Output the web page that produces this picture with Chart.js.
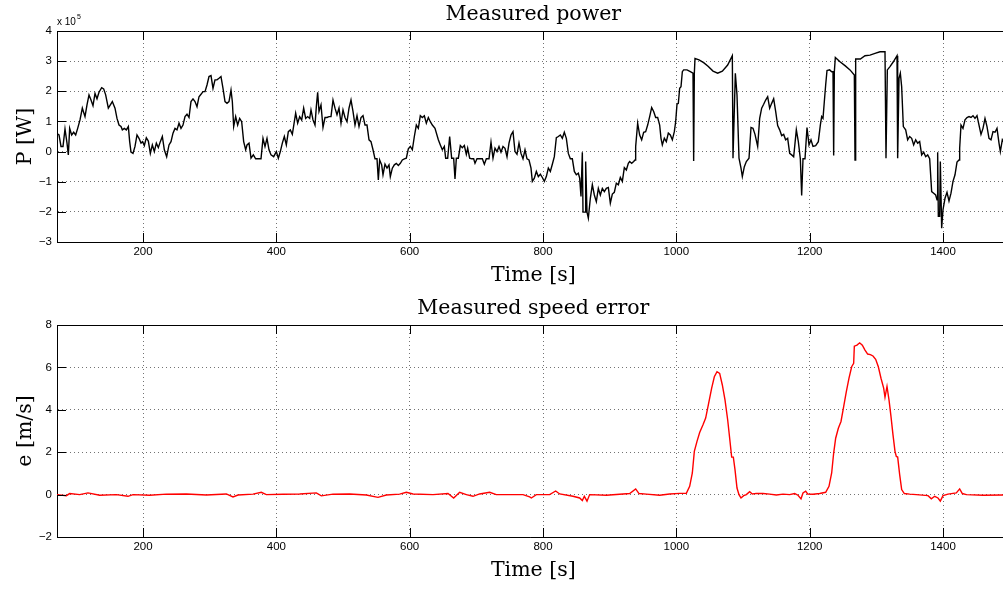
<!DOCTYPE html>
<html>
<head>
<meta charset="utf-8">
<script src="https://cdn.jsdelivr.net/npm/chart.js@4.4.1/dist/chart.umd.min.js"></script>
<style>
  html, body { margin: 0; padding: 0; background: #fff; }
  #wrap { position: relative; width: 1003px; height: 590px; overflow: hidden; }
  canvas { position: absolute; left: 0; }
  #powerChart { top: 0; }
  #errChart { top: 290px; }
</style>
</head>
<body>
<div id="wrap">
  <canvas id="powerChart" width="1003" height="290"></canvas>
  <canvas id="errChart" width="1003" height="300"></canvas>
</div>
<script>
// time axis ticks and per-plot y ticks
const timeTicks = [200, 400, 600, 800, 1000, 1200, 1400];
const powerTicks = [-3, -2, -1, 0, 1, 2, 3, 4];
const errTicks = [-2, 0, 2, 4, 6, 8];

// measured power, in units of 10^5 W
const powerTime = [70.5,74,77,80,83,86,88,90,93,96,99,102,105.5,109,113,116,119,122,125,128,131,134,138,141,144,148,151,154,158,161,164,167,169,172,175,178,180,182,185,188,191,194,197,199.5,202,205,208,211,214,217,220,223,226,229,232,235.5,239,242,245,248,251,254,257,260,263,266,269,272,275,278,281,284,287,290,293,296,299,302,305,308,311,314,317,320,323,326,329,332,334,336,339,342,345,348,351,354,356,359,362,365.5,369,373,377,380,383,386,389,392,396,400,403,406,409,412,415,418,421,424,427,429,432,435,438,441,444,447,450,452,455,458,460,462,464,467,470,473,476,479,482,485,488,491,494,497,500,503,506,509,512,515,518,521,524,527,530,533,536,539,542,545,548,551,553,555,558,560,563,566,569,571,574,577,580,583,586,589,592,595,598,601,604,607,610,613,616,619,622,625,628,631,634,638,643,646,649,652,654,657,660,663,666,668,670,673,676,679,682,685,687,690,693,696,698,701,705,709,712,715,719,722,725,728,731,734,737,740,743,746,749,752,755,758,761,764,767,770,773,776,779,782,784,787,790,793,796,799,802,805,808,811,814,817,820,823,826,829,832,835,838,841,844,847,850,853,855,857,859,860,863,864,866,868,871,874,877,880,883,886,889,892,895,898,901,904,907,910,913,916,919,922,925,928,930,933,936,938,939,942,945,948,951,954,957,960,963,966,969,972,975,977,979,982,985,988,991,994,997,999,1001,1003,1005,1007,1009,1011,1016,1021,1025,1026,1027,1028,1034,1041,1048,1055,1062,1069,1077,1084,1085,1088.5,1091,1094,1097,1099,1102,1105,1109,1112,1115,1118,1122,1125,1128,1131,1134,1137,1140,1143,1146,1149,1152,1155,1158,1161,1164,1167,1170,1173,1176,1180,1183,1186,1188,1190,1193,1196,1199,1202,1205,1209,1213,1216,1218,1220,1222,1224,1226,1230,1233,1235,1236,1237,1238.5,1245.5,1253,1260.5,1267,1268,1269,1276,1283,1290.5,1298,1305.5,1313,1314.5,1316.5,1320.5,1325.5,1331,1332,1334,1336,1338,1340.5,1344,1347,1350,1353,1356,1359,1362,1365,1368,1371,1374,1377,1380,1383,1386,1389,1391,1392,1393,1395,1396,1398,1400,1403,1406,1409,1412,1415,1418,1421,1424,1425,1427,1430,1433,1436,1439,1442,1445,1448,1451,1454,1457,1460,1463,1466,1469,1472,1475,1478,1481,1484,1486,1489,1492];
const powerVal = [0.61,0.55,0.17,0.17,0.75,0.28,-0.11,0.77,0.55,0.64,0.55,0.77,1.05,1.44,1.16,1.55,1.88,1.71,1.52,1.93,1.75,1.97,2.12,2.08,1.88,1.44,1.55,1.66,1.44,1.10,0.88,0.83,0.72,0.77,0.72,0.83,0.33,-0.02,-0.06,0.17,0.55,0.44,0.28,0.33,0.2,0.46,0.35,-0.06,0.22,0.0,0.28,0.13,0.33,0.5,0.06,-0.17,0.22,0.33,0.61,0.77,0.72,0.94,0.77,0.88,1.16,1.24,1.13,1.66,1.75,1.66,1.49,1.82,1.90,1.99,1.99,2.21,2.49,2.52,2.10,2.38,2.38,2.43,2.49,2.10,1.66,1.60,1.66,2.04,1.66,0.83,1.16,0.88,1.10,0.99,0.33,0.06,0.22,0.28,-0.22,-0.11,-0.24,-0.24,-0.24,0.44,0.17,0.44,0.06,-0.11,-0.17,0.0,-0.22,0.0,0.28,0.5,0.22,0.66,0.72,0.57,0.99,1.27,0.94,1.16,1.05,1.44,1.10,1.16,1.10,1.38,1.05,0.88,1.49,1.97,1.33,1.55,0.80,1.13,1.13,1.16,1.16,1.71,1.44,1.22,1.44,0.94,1.38,1.13,0.99,1.44,1.71,1.33,0.88,1.19,0.83,1.13,1.19,0.88,0.88,0.39,0.33,0.06,-0.24,-0.24,-0.94,-0.28,-0.44,-0.77,-0.42,-0.55,-0.44,-0.83,-0.55,-0.44,-0.39,-0.46,-0.39,-0.28,-0.24,-0.22,0.09,0.17,0.06,0.5,0.88,0.77,1.19,1.13,1.19,0.94,1.13,0.99,0.88,0.77,0.39,0.22,0.06,0.17,-0.22,-0.22,0.5,-0.22,-0.22,-0.91,-0.22,-0.22,0.2,0.13,0.2,-0.09,0.11,-0.22,-0.24,-0.24,-0.39,-0.24,-0.24,-0.24,-0.42,-0.24,-0.24,0.31,-0.22,0.11,0.0,0.17,-0.02,0.17,0.11,-0.17,0.28,0.55,0.66,0.0,-0.09,0.28,-0.06,-0.24,0.06,-0.24,-0.28,-0.55,-0.99,-0.88,-0.66,-0.83,-0.75,-0.86,-0.99,-0.83,-0.55,-0.66,-0.42,-0.17,0.46,0.5,0.55,0.44,0.64,0.44,-0.06,-0.24,-0.24,-0.66,-0.77,-0.72,-0.88,-1.49,-0.02,-2.01,-2.01,-0.33,-2.01,-2.21,-1.55,-1.10,-1.44,-1.66,-1.22,-1.44,-1.22,-1.33,-1.22,-1.19,-1.71,-1.41,-1.35,-1.05,-1.10,-0.86,-0.99,-0.53,-0.61,-0.39,-0.33,-0.39,-0.33,-0.28,0.17,0.94,0.55,0.39,0.64,0.66,0.88,1.16,1.46,1.33,1.13,1.13,0.88,0.44,0.22,0.44,0.33,0.61,0.55,0.39,0.66,0.99,1.57,1.60,2.10,2.15,2.65,2.71,2.71,2.65,2.60,-0.31,2.60,3.09,3.04,2.95,2.82,2.67,2.60,2.67,2.87,3.18,-0.22,2.60,1.88,-0.22,-0.55,-0.83,-0.50,-0.33,-0.22,0.80,0.77,0.57,0.17,1.10,1.44,1.57,1.71,1.82,1.44,1.60,1.75,1.33,0.86,0.72,0.53,0.57,0.39,0.44,-0.06,-0.11,-0.17,0.72,0.33,-0.24,-1.46,-0.24,-0.24,0.80,0.22,0.39,0.17,0.2,0.33,0.88,1.16,1.10,1.66,2.21,2.69,2.71,2.65,2.65,-0.13,2.65,3.12,2.98,2.85,2.71,2.54,-0.28,3.07,3.07,3.18,3.20,3.26,3.31,3.31,-0.22,2.71,2.82,2.98,3.18,-0.22,2.43,2.60,2.15,0.83,0.72,0.39,0.50,0.44,0.22,0.39,0.28,0.33,-0.11,-0.02,-0.17,-0.11,-0.24,-1.33,-1.38,-1.44,-1.60,-0.02,-2.15,-2.15,-0.33,-2.54,-1.93,-1.55,-1.35,-1.64,-1.38,-0.99,-0.77,-0.35,-0.28,0.11,0.88,0.77,1.05,1.13,1.16,1.13,1.19,1.10,1.19,0.88,0.57,0.77,1.10,0.83,0.44,0.39,0.66,0.64,0.77,0.28,0.0,0.39,0.28];

// measured speed error, m/s
const errTime = [70,85,90,105,117.5,135,160,177.5,185,210,235,265,295,325,335,342.5,365,377.5,385,410,435,460,467.5,485,510,535,552.5,565,585,595,605,635,657.5,666,675,685,695,705,720,730,770,780,782.5,790,810,819,825,845,855,859,862,866,870,895,930,939,944,955,975,990,1005,1015,1020,1024,1027,1031,1035,1040,1044,1048,1053,1057,1061,1065,1069,1073,1077,1080,1083,1085.5,1088,1091,1094,1097,1101,1105,1110,1114,1120,1130,1140,1150,1160,1170,1177.5,1182.5,1187,1190,1194,1197,1205,1215,1224,1229,1233,1236,1239,1243,1247,1251,1255,1259,1263,1266,1267,1271,1275,1279,1283,1287,1291,1295,1299,1303,1307,1311,1313,1316,1319,1322,1325,1328,1330,1332,1335,1338,1342,1350,1360,1377.5,1382.5,1387.5,1392.5,1396,1400,1407.5,1420,1425,1429,1435,1460,1492];
const errVal = [0,-0.05,0.05,0,0.08,-0.03,0,-0.08,0,-0.03,0.02,0.03,-0.02,0.03,-0.11,-0.02,0.02,0.11,0,0.02,0.03,0.08,-0.06,0.02,0.03,-0.02,-0.13,-0.02,0.02,0.11,0.03,0,0.05,-0.16,0.11,0,-0.08,0.03,0.11,0,0,-0.11,-0.16,0,0,0.17,0.03,-0.08,-0.16,-0.28,-0.08,-0.31,0,-0.03,0.05,0.27,0.05,0.02,-0.03,0.03,0.06,0.06,0.39,1.02,2.04,2.51,2.93,3.29,3.61,4.23,5.02,5.56,5.80,5.72,5.17,4.47,3.53,2.66,1.77,1.77,1.18,0.31,0,-0.16,-0.05,0,0.14,0.03,0.06,0.05,0.02,-0.02,0.02,0,0.05,-0.03,-0.2,0.08,0.16,0.03,0.02,0.05,0.11,0.39,1.02,1.96,2.66,3.13,3.45,4.15,4.86,5.49,6.03,6.19,7.0,7.05,7.16,7.05,6.82,6.63,6.60,6.54,6.38,6.03,5.49,5.02,4.59,5.10,4.47,3.68,2.82,2.04,1.80,1.77,0.94,0.24,0.05,0.02,0,-0.05,-0.2,-0.08,-0.16,-0.31,-0.05,0.02,0.08,0.27,0.05,0,-0.03,-0.02];

const serif = '"DejaVu Serif", serif';
const sans = '"Liberation Sans", Arial, sans-serif';

// titles, axis labels, top box edge and inward ticks
const decor = {
  id: 'decor',
  afterDraw(chart, args, opts) {
    const ctx = chart.ctx;
    const a = chart.chartArea;
    const xs = chart.scales.x, ys = chart.scales.y;
    ctx.save();
    ctx.strokeStyle = '#000';
    ctx.lineWidth = 1;
    ctx.beginPath();
    ctx.moveTo(a.left, a.top + 0.5);
    ctx.lineTo(a.right, a.top + 0.5);
    timeTicks.forEach(v => {
      const px = Math.round(xs.getPixelForValue(v)) + 0.5;
      ctx.moveTo(px, a.bottom);
      ctx.lineTo(px, a.bottom - 9);
      ctx.moveTo(px, a.top);
      ctx.lineTo(px, a.top + 9);
    });
    opts.yTicks.forEach(v => {
      const py = Math.round(ys.getPixelForValue(v)) + 0.5;
      ctx.moveTo(a.left, py);
      ctx.lineTo(a.left + 9, py);
    });
    ctx.stroke();

    const cx = xs.getPixelForValue(785.5);
    ctx.fillStyle = '#000';
    ctx.font = '20.5px ' + serif;
    ctx.textAlign = 'center';
    ctx.textBaseline = 'alphabetic';
    ctx.fillText(opts.title, cx, a.top - 11);
    ctx.fillText('Time [s]', cx, a.bottom + 39);

    ctx.translate(31, (a.top + a.bottom) / 2);
    ctx.rotate(-Math.PI / 2);
    ctx.fillText(opts.ylabel, 0, 0);
    ctx.setTransform(1, 0, 0, 1, 0, 0);

    if (opts.multiplier) {
      ctx.textAlign = 'left';
      ctx.font = '10px ' + sans;
      ctx.fillText('x 10', a.left, a.top - 6);
      const w = ctx.measureText('x 10').width;
      ctx.font = '7px ' + sans;
      ctx.fillText(opts.multiplier, a.left + w + 1, a.top - 12);
    }
    ctx.restore();
  }
};

function makeChart(id, times, vals, color, yTicks, yMin, yMax, topPad, xHeight, deco) {
  return new Chart(document.getElementById(id), {
    type: 'line',
    data: {
      datasets: [{
        data: times.map((t, i) => ({ x: t, y: vals[i] })),
        borderColor: color,
        borderWidth: 1.4,
        pointRadius: 0,
        tension: 0,
        fill: false
      }]
    },
    options: {
      responsive: false,
      animation: false,
      devicePixelRatio: 1,
      layout: { padding: { top: topPad, left: 0, right: 0, bottom: 0 } },
      plugins: {
        legend: { display: false },
        tooltip: { enabled: false },
        decor: Object.assign({ yTicks: yTicks }, deco)
      },
      scales: {
        x: {
          type: 'linear',
          min: 71,
          max: 1490,
          afterBuildTicks: s => { s.ticks = timeTicks.map(v => ({ value: v })); },
          afterFit: s => { s.height = xHeight; },
          ticks: {
            color: '#000',
            font: { family: sans, size: 11.5 },
            padding: 3,
            maxRotation: 0,
            callback: v => String(v)
          },
          grid: { color: 'rgba(0,0,0,0.55)', lineWidth: 1, drawTicks: false },
          border: { color: '#000', width: 1, dash: [1, 3] }
        },
        y: {
          min: yMin,
          max: yMax,
          afterBuildTicks: s => { s.ticks = yTicks.map(v => ({ value: v })); },
          afterFit: s => { s.width = 57; },
          ticks: {
            color: '#000',
            font: { family: sans, size: 11.5 },
            padding: 5,
            callback: v => String(v).replace('-', '\u2212')
          },
          grid: { color: 'rgba(0,0,0,0.55)', lineWidth: 1, drawTicks: false },
          border: { color: '#000', width: 1, dash: [1, 3] }
        }
      }
    },
    plugins: [decor]
  });
}

makeChart('powerChart', powerTime, powerVal, '#000', powerTicks, -3, 4, 31, 48,
  { title: 'Measured power', ylabel: 'P [W]', multiplier: '5' });
makeChart('errChart', errTime, errVal, '#ff0000', errTicks, -2, 8, 35, 53,
  { title: 'Measured speed error', ylabel: 'e [m/s]' });
</script>
</body>
</html>
